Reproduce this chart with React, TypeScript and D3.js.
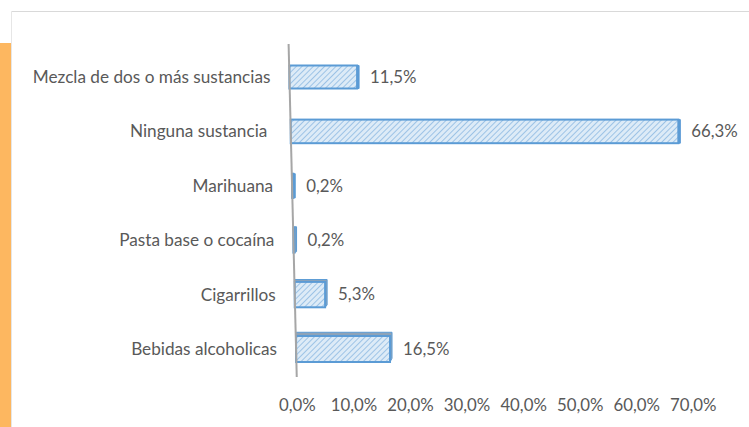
import React from "react";
import * as d3 from "d3";

const categories = [
  "Mezcla de dos o más sustancias",
  "Ninguna sustancia ",
  "Marihuana",
  "Pasta base o cocaína",
  "Cigarrillos",
  "Bebidas alcoholicas",
];
const values = [11.5, 66.3, 0.2, 0.2, 5.3, 16.5];
const valueLabels = ["11,5%", "66,3%", "0,2%", "0,2%", "5,3%", "16,5%"];
const ticks = [0, 10, 20, 30, 40, 50, 60, 70];
const tickLabels = ["0,0%", "10,0%", "20,0%", "30,0%", "40,0%", "50,0%", "60,0%", "70,0%"];

const W = 749;
const H = 427;
const FONT = "Lato, 'Open Sans', sans-serif";
const TEXT = "#595959";
const FS = 16.8;

// perspective helpers: origin and scale depend on the vertical position
const originX = (y: number) => 288.5 + 0.0245 * (y - 40);
const pxPerUnit = (y: number) => 5.845 - 0.0007 * (y - 133);
const xScaleAt = (y: number) =>
  d3.scaleLinear().domain([0, 70]).range([originX(y), originX(y) + 70 * pxPerUnit(y)]);

const yScale = d3.scalePoint<string>().domain(categories).range([77, 349]);

export default function App() {
  const axisTop = 44;
  const axisBottom = 377;
  const tickY = 405;
  const xTick = xScaleAt(tickY);

  return (
    <svg
      width={W}
      height={H}
      style={{ position: "absolute", left: 0, top: 0, background: "#fff" }}
      fontFamily={FONT}
    >
      <defs>
        <pattern id="hatch" width="4" height="4" patternUnits="userSpaceOnUse" patternTransform="rotate(45)">
          <rect width="4" height="4" fill="#DDEBF7" />
          <line x1="0" y1="0" x2="0" y2="4" stroke="#9DC3E6" strokeWidth="2" />
        </pattern>
      </defs>
      {/* frame */}
      <rect x={0} y={43} width={11} height={H - 43} fill="#FDB760" />
      <line x1={11.5} y1={11.5} x2={W} y2={11.5} stroke="#D9D9D9" strokeWidth={1} />
      <line x1={11.5} y1={11.5} x2={11.5} y2={H} stroke="#E6E6E6" strokeWidth={1} />

      {/* bars */}
      {categories.map((c, i) => {
        const yc = yScale(c) as number;
        const h = 23 + ((yc - 77) / 272) * 3;
        const xs = xScaleAt(yc);
        const x0 = xs(0);
        const x1 = xs(values[i]);
        const dy = Math.min(0, -(yc - 200) * 0.025);
        const dx = 2;
        const top = yc - h / 2;
        return (
          <g key={c}>
            <polygon
              points={`${x0},${top} ${x0 - 0.5},${top + dy} ${x1 + dx},${top + dy} ${x1 + dx},${top + h + dy} ${x1},${top + h} ${x1},${top}`}
              fill={dy < -1 ? "#8EA3B8" : "#5B9BD5"}
              stroke="#5B9BD5"
              strokeWidth={1}
            />
            <rect
              x={x0}
              y={top}
              width={Math.max(0.5, x1 - x0)}
              height={h}
              fill="url(#hatch)"
              stroke="#5B9BD5"
              strokeWidth={2}
            />
            <text
              x={x1 + 11 + dx}
              y={yc}
              dy="0.35em"
              fontSize={FS}
              fill={TEXT}
            >
              {valueLabels[i]}
            </text>
            <text
              x={x0 - 19}
              y={yc}
              dy="0.35em"
              fontSize={17.2}
              fill={TEXT}
              textAnchor="end"
              style={{ whiteSpace: "pre" }}
            >
              {c}
            </text>
          </g>
        );
      })}

      {/* axis line */}
      <line
        x1={originX(axisTop)}
        y1={axisTop}
        x2={originX(axisBottom)}
        y2={axisBottom}
        stroke="#A6A6A6"
        strokeWidth={2}
      />

      {/* tick labels */}
      {ticks.map((t, i) => (
        <text
          key={t}
          x={xTick(t)}
          y={tickY}
          dy="0.35em"
          fontSize={FS}
          fill={TEXT}
          textAnchor="middle"
        >
          {tickLabels[i]}
        </text>
      ))}
    </svg>
  );
}
